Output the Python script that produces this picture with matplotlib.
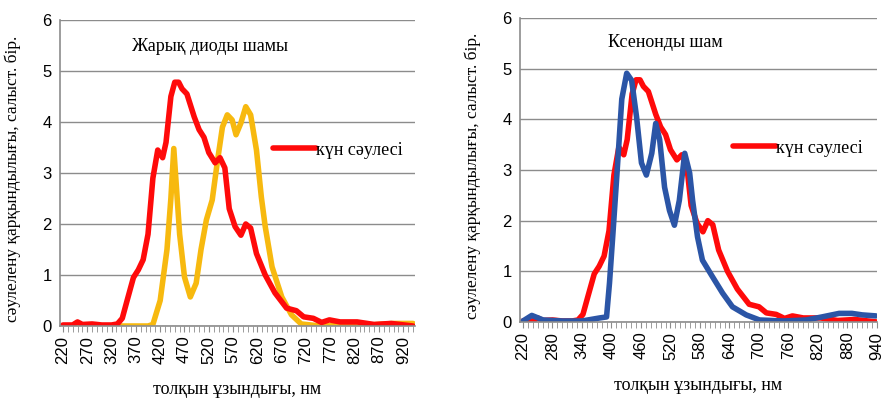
import matplotlib.pyplot as plt
from matplotlib.ticker import MultipleLocator, FixedLocator

# wavelength, nm / relative intensity
sun_nm = [220, 240, 250, 260, 280, 300, 320, 332, 342, 352, 365, 375, 385, 395,
          405, 415, 425, 432, 442, 450, 458, 465, 475, 490, 500, 510, 520, 533,
          543, 553, 562, 574, 586, 596, 606, 618, 636, 656, 680, 700, 715, 735,
          752, 768, 790, 825, 860, 895, 940]
sun_val = [0.02, 0.02, 0.08, 0.03, 0.04, 0.02, 0.02, 0.04, 0.15, 0.5, 0.95, 1.1,
           1.3, 1.8, 2.9, 3.45, 3.3, 3.6, 4.5, 4.78, 4.78, 4.65, 4.55, 4.1, 3.85,
           3.7, 3.4, 3.2, 3.3, 3.1, 2.3, 1.95, 1.78, 2.0, 1.92, 1.42, 1.0, 0.65,
           0.35, 0.3, 0.18, 0.15, 0.07, 0.12, 0.08, 0.08, 0.03, 0.05, 0.0]

led_nm = [220, 300, 395, 405, 420, 434, 442, 448, 460, 470, 482, 494, 504, 515,
          527, 538, 548, 558, 568, 576, 586, 596, 606, 618, 628, 636, 650, 670,
          690, 710, 750, 850, 900, 940]
led_val = [0.0, 0.0, 0.0, 0.03, 0.5, 1.5, 2.5, 3.48, 1.8, 0.96, 0.57, 0.84, 1.5,
           2.08, 2.47, 3.25, 3.9, 4.14, 4.04, 3.75, 3.98, 4.3, 4.14, 3.45, 2.53,
           1.95, 1.16, 0.57, 0.22, 0.04, 0.0, 0.02, 0.05, 0.05]

xe_nm = [220, 238, 261, 300, 340, 376, 390, 396, 403, 411, 421, 431, 441, 451,
         461, 471, 482, 490, 498, 508, 518, 528, 538, 549, 559, 565, 575, 585,
         605, 626, 646, 674, 701, 750, 796, 828, 863, 889, 910, 938]
xe_val = [0.02, 0.13, 0.04, 0.02, 0.02, 0.08, 0.1, 0.77, 1.75, 2.9, 4.4, 4.91,
          4.77, 4.05, 3.14, 2.9, 3.33, 3.92, 3.6, 2.66, 2.2, 1.91, 2.4, 3.33,
          2.94, 2.4, 1.68, 1.22, 0.9, 0.57, 0.3, 0.14, 0.04, 0.02, 0.04, 0.1,
          0.17, 0.17, 0.14, 0.12]

left_ticks = list(range(220, 921, 50))
right_ticks = list(range(220, 941, 60))

RED = '#FF0A0A'
GOLD = '#F7B90F'
BLUE = '#2B55A6'
GRID = '#8C8C8C'

serif = 'Liberation Serif'
sans = 'Liberation Sans'
LW = 4.0

fig = plt.figure(figsize=(8.85, 3.98), dpi=100)

def setup(ax, ticks, xlim, title, title_xy, leg_xy):
    ax.set_xlim(*xlim)
    ax.set_ylim(0, 6)
    ax.set_yticks(range(0, 7))
    ax.xaxis.set_major_locator(FixedLocator(ticks))
    ax.xaxis.set_minor_locator(MultipleLocator(10))
    ax.set_xticklabels([str(t) for t in ticks], rotation=90, family=sans, fontsize=12)
    for lab in ax.get_yticklabels():
        lab.set_family(sans)
        lab.set_fontsize(12)
    ax.tick_params(axis='x', which='both', length=4, color=GRID, pad=3)
    ax.tick_params(axis='y', length=0, pad=6)
    ax.grid(axis='y', color=GRID, lw=1)
    ax.set_axisbelow(True)
    for s in ['top', 'right']:
        ax.spines[s].set_visible(False)
    for s in ['left', 'bottom']:
        ax.spines[s].set_color(GRID)
        ax.spines[s].set_linewidth(1.2)
    ax.set_xlabel('толқын ұзындығы, нм', family=serif, fontsize=13)
    ax.xaxis.set_label_coords(0.5, -0.18)
    ax.set_ylabel('сәулелену қарқындылығы, салыст. бір.', family=serif, fontsize=12.5)
    ax.yaxis.set_label_coords(-0.11, 0.48)
    ax.text(title_xy[0], title_xy[1], title, transform=ax.transAxes,
            ha='center', va='center', family=serif, fontsize=13)
    ax.legend(loc='center left', bbox_to_anchor=leg_xy, frameon=False,
              handlelength=2.4, handletextpad=0.0, borderpad=0, borderaxespad=0,
              prop={'family': serif, 'size': 13})

ax1 = fig.add_axes([60 / 885, 72 / 398, 355 / 885, 306 / 398])
ax1.plot(led_nm, led_val, color=GOLD, lw=LW, solid_joinstyle='round', solid_capstyle='round')
ax1.plot(sun_nm, sun_val, color=RED, lw=LW, solid_joinstyle='round', solid_capstyle='round',
         label='күн сәулесі')
setup(ax1, left_ticks, (214, 944), 'Жарық диоды шамы', (0.423, 0.912), (0.6, 0.575))

ax2 = fig.add_axes([520 / 885, 76 / 398, 357 / 885, 304 / 398])
ax2.plot(sun_nm, sun_val, color=RED, lw=LW, solid_joinstyle='round', solid_capstyle='round',
         label='күн сәулесі')
ax2.plot(xe_nm, xe_val, color=BLUE, lw=LW, solid_joinstyle='round', solid_capstyle='round')
setup(ax2, right_ticks, (214, 940), 'Ксенонды шам', (0.406, 0.921), (0.597, 0.572))

fig.savefig('out.png', dpi=100)
